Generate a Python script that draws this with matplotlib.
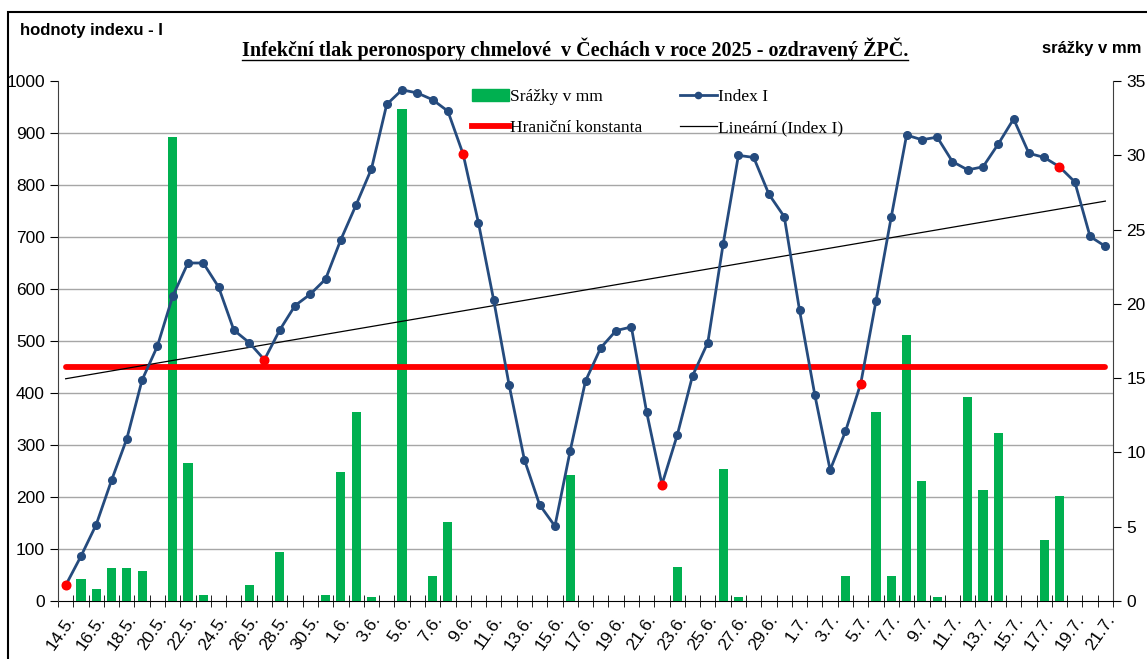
import numpy as np
import pandas as pd
import matplotlib
matplotlib.use("Agg")
import matplotlib.pyplot as plt
from matplotlib.lines import Line2D
from matplotlib.patches import Patch, Rectangle

# ---- data ----
dates = pd.date_range("2025-05-14", "2025-07-21", freq="D")
day_labels = [f"{d.day}.{d.month}." for d in dates]

index_i = [30, 86, 147, 232, 312, 425, 490, 586, 650, 650,
           604, 521, 497, 464, 521, 568, 590, 619, 695, 762,
           831, 955, 983, 977, 964, 942, 859, 727, 578, 416,
           272, 185, 144, 289, 423, 487, 520, 527, 363, 224,
           319, 433, 497, 686, 857, 853, 782, 739, 559, 396,
           252, 326, 418, 577, 739, 896, 887, 892, 845, 829,
           835, 879, 927, 861, 853, 835, 806, 701, 682]

srazky = [0, 1.5, 0.8, 2.2, 2.2, 2.0, 0, 31.2, 9.3, 0.4,
          0, 0, 1.1, 0, 3.3, 0, 0, 0.4, 8.7, 12.7,
          0.3, 0, 33.1, 0, 1.7, 5.3, 0, 0, 0, 0,
          0, 0, 0, 8.5, 0, 0, 0, 0, 0, 0,
          2.3, 0, 0, 8.9, 0.3, 0, 0, 0, 0, 0,
          0, 1.7, 0, 12.7, 1.7, 17.9, 8.1, 0.3, 0, 13.7,
          7.5, 11.3, 0, 0, 4.1, 7.1, 0, 0, 0]

highlight_days = [0, 13, 26, 39, 52, 65]   # red points
hranicni_konstanta = 450

x = np.arange(len(index_i))
idx = np.array(index_i, dtype=float)

# ---- figure ----
W, H = 1147, 659
fig = plt.figure(figsize=(W / 100, H / 100), dpi=100)
ax2 = fig.add_axes([58 / W, 1 - 601 / H, (1113 - 58) / W, (601 - 81) / H])
ax = ax2.twinx()
# line axis on top, bar axis behind
ax2.set_zorder(1)
ax.set_zorder(2)
ax.patch.set_visible(False)

sans = ["Liberation Sans", "DejaVu Sans"]
serif = ["Liberation Serif", "DejaVu Serif"]

# bars (right scale)
ax2.bar(x, srazky, width=0.6, color="#00B050", zorder=3)
ax2.set_ylim(0, 35)
ax2.set_yticks(np.arange(0, 36, 5))
ax2.set_yticks(np.arange(0, 35.1, 3.5), minor=True)
ax2.grid(which="minor", axis="y", color="#a6a6a6", lw=1.0, zorder=0)
ax2.yaxis.tick_right()
ax2.tick_params(axis="y", which="major", direction="out", length=6, labelsize=12.5,
                right=True, left=False, labelright=True, labelleft=False)
ax2.tick_params(axis="y", which="minor", length=0)
for t in ax2.get_yticklabels():
    t.set_family(sans)

# x axis on bar axes
ax2.set_xlim(-0.5, len(x) - 0.5)
ax2.set_xticks(x[::2])
ax2.set_xticklabels(day_labels[::2], rotation=55, ha="right", va="top",
                    rotation_mode="anchor", family=sans, fontsize=12.5)
ax2.set_xticks(np.arange(-0.5, len(x), 1), minor=True)
ax2.tick_params(axis="x", which="major", length=0, pad=8)
ax2.tick_params(axis="x", which="minor", direction="inout", length=8, color="black")
for s in ["top", "left"]:
    ax2.spines[s].set_visible(False)
ax2.spines["right"].set_color("#404040")
ax2.spines["bottom"].set_color("black")

# line (left scale)
ax.yaxis.tick_left()
ax.yaxis.set_label_position("left")
ax.set_ylim(0, 1000)
ax.set_yticks(np.arange(0, 1001, 100))
ax.tick_params(axis="y", direction="out", length=6, labelsize=12.5,
               left=True, right=False, labelleft=True, labelright=False)
for t in ax.get_yticklabels():
    t.set_family(sans)
for s in ["top", "right", "bottom"]:
    ax.spines[s].set_visible(False)
ax.spines["left"].set_color("#404040")

ax.plot([x[0], x[-1]], [hranicni_konstanta] * 2, color="#FF0000", lw=4.2,
        solid_capstyle="round", zorder=3)
k, q = np.polyfit(x, idx, 1)
ax.plot(x, k * x + q, color="black", lw=0.9, zorder=4)
ax.plot(x, idx, color="#254B7E", lw=2.0, marker="o", ms=5.5, zorder=5)
ax.plot(x[highlight_days], idx[highlight_days], "o", color="#FF0000", ms=6.2, zorder=6)

# legend
handles = [Patch(color="#00B050"),
           Line2D([], [], color="#FF0000", lw=4.2),
           Line2D([], [], color="#254B7E", lw=2.0, marker="o", ms=4.5),
           Line2D([], [], color="black", lw=0.9)]
labels = ["Srážky v mm", "Hraniční konstanta", "Index I", "Lineární (Index I)"]
ax.legend(handles, labels, ncol=2, frameon=False, loc="upper left",
          bbox_to_anchor=(0.378, 1.014), prop={"family": serif, "size": 12.5},
          handlelength=2.1, handletextpad=0.05, columnspacing=2.2,
          labelspacing=0.85)

# texts
fig.text(20 / W, 1 - 31 / H, "hodnoty indexu - I", family=sans, weight="bold",
         fontsize=12, ha="left", va="center")
fig.text(1141 / W, 1 - 48 / H, "srážky v mm", family=sans, weight="bold",
         fontsize=12, ha="right", va="center")
title = fig.text(575 / W, 1 - 49 / H,
                 "Infekční tlak peronospory chmelové  v Čechách v roce 2025 - ozdravený ŽPČ.",
                 family=serif, weight="bold", fontsize=14.5, ha="center", va="center")

fig.canvas.draw()
bb = title.get_window_extent()
inv = fig.transFigure.inverted()
(x0, y0), (x1, _) = inv.transform([(bb.x0, bb.y0 + 1), (bb.x1, bb.y0 + 1)])
fig.add_artist(Line2D([x0, x1], [y0, y0], color="black", lw=1.0,
                      transform=fig.transFigure))

# outer chart frame
fig.add_artist(Rectangle((8 / W, -0.2), 2, 1 - 12 / H + 0.2, fill=False,
                         edgecolor="black", lw=1.5, transform=fig.transFigure))

fig.savefig("out.png", dpi=100)
